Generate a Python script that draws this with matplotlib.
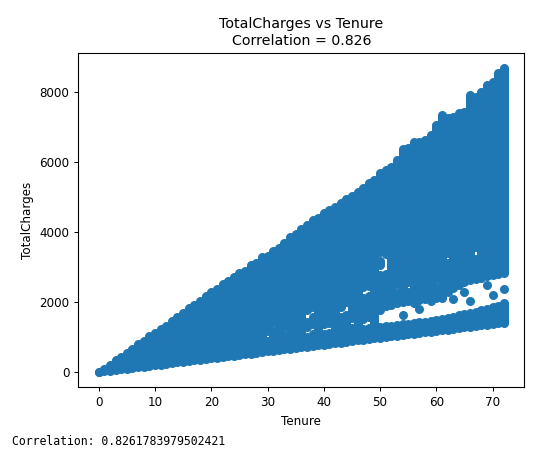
import matplotlib
matplotlib.use("Agg")
import matplotlib.pyplot as plt

# Telco customers: TotalCharges against tenure
tenure = list(range(73))

# lowest and highest TotalCharges seen for each tenure (months 0..72)
low_charges = [0, 19, 39, 58, 78, 98, 118, 138, 157, 178, 198, 217, 236, 256, 276,
               296, 315, 334, 354, 374, 394, 413, 432, 452, 472, 492, 511, 530, 550,
               570, 590, 609, 628, 648, 668, 688, 707, 726, 746, 766, 786, 805, 824,
               844, 864, 884, 903, 922, 942, 962, 982, 1001, 1020, 1040, 1060, 1080,
               1099, 1118, 1138, 1158, 1178, 1197, 1216, 1236, 1256, 1276, 1295, 1314,
               1334, 1354, 1374, 1393, 1413]
high_charges = [0, 102, 215, 335, 445, 560, 650, 800, 880, 1020, 1110, 1240, 1330,
                1450, 1570, 1700, 1830, 1920, 2030, 2170, 2280, 2370, 2520, 2600, 2730,
                2830, 2900, 3060, 3110, 3280, 3320, 3470, 3540, 3700, 3870, 3940, 4100,
                4210, 4340, 4400, 4540, 4640, 4710, 4820, 4950, 5020, 5150, 5260, 5390,
                5480, 5680, 5760, 5870, 6050, 6380, 6400, 6580, 6560, 6640, 6760, 7060,
                7340, 7250, 7300, 7390, 7430, 7920, 7850, 8000, 8210, 8300, 8540, 8680]

# empty stretches inside a tenure column: (last value below, first value above)
gaps = {
    30: [(900, 1160)],
    31: [(1180, 1440)],
    33: [(1050, 1330)],
    37: [(1000, 1300), (1420, 1760)],
    38: [(1080, 1380), (1560, 1860)],
    40: [(1100, 1380)],
    41: [(1120, 1400)],
    43: [(1560, 1860)],
    44: [(1640, 2000)],
    45: [(1260, 1540)],
    47: [(1240, 1520), (2120, 2420)],
    48: [(1260, 1560), (2160, 2460)],
    50: [(1300, 1760), (2760, 3060), (3160, 3420)],
    51: [(1320, 1900), (2800, 3360)],
    52: [(1330, 1960)],
    53: [(1350, 1980), (2250, 2520)],
    54: [(1370, 2000)],
    55: [(1380, 2020), (2300, 2560)],
    56: [(1400, 2040)],
    57: [(1420, 2060)],
    58: [(1440, 2080), (2420, 2660)],
    59: [(1460, 2100)],
    60: [(1480, 2130), (2440, 2680)],
    61: [(1510, 2200)],
    62: [(1540, 2300), (3120, 3400)],
    63: [(1580, 2400)],
    64: [(1620, 2500)],
    65: [(1660, 2560)],
    66: [(1690, 2620)],
    67: [(1730, 2660), (3240, 3560)],
    68: [(1770, 2700)],
    69: [(1810, 2740)],
    70: [(1850, 2780)],
    71: [(1900, 2800)],
    72: [(1975, 2820)],
}

# lone customers sitting inside the gaps
lone_tenure = [52, 54, 56, 59, 61, 66, 69, 70, 57, 63, 65, 72]
lone_charges = [1930, 1640, 1980, 2020, 2120, 2020, 2500, 2210, 1800, 2100, 2300, 2380]

correlation = 0.8261783979502421

blue = "#1f77b4"
dot = 6.5  # marker diameter in points

fig = plt.figure(figsize=(5.52, 4.59), dpi=100)
ax = fig.add_axes([0.1422, 0.1562, 0.8071, 0.7283])

seg_x, seg_lo, seg_hi = [], [], []
for t, lo, hi in zip(tenure, low_charges, high_charges):
    edges = [lo]
    for below, above in gaps.get(t, []):
        edges += [below, above]
    edges.append(hi)
    for a, b in zip(edges[::2], edges[1::2]):
        seg_x.append(t)
        seg_lo.append(a)
        seg_hi.append(b)

# dense runs of points merge into solid columns
ax.vlines(seg_x, seg_lo, seg_hi, colors=blue, linewidth=dot, capstyle="butt")
ax.scatter(seg_x + seg_x, seg_lo + seg_hi, s=dot ** 2, color=blue, linewidths=0)
ax.scatter(lone_tenure, lone_charges, s=dot ** 2, color=blue, linewidths=0)

ax.set_title("TotalCharges vs Tenure\nCorrelation = %.3f" % correlation, fontsize=10.2)
ax.set_xlabel("Tenure", fontsize=8.6)
ax.set_ylabel("TotalCharges", fontsize=8.6)
ax.tick_params(labelsize=8.6, length=3, width=0.7)
for sp in ax.spines.values():
    sp.set_linewidth(0.8)

fig.text(0.021, 0.024, "Correlation: %s" % correlation, family="DejaVu Sans Mono",
         fontsize=8.3, va="bottom")

fig.savefig("out.png", dpi=100)
